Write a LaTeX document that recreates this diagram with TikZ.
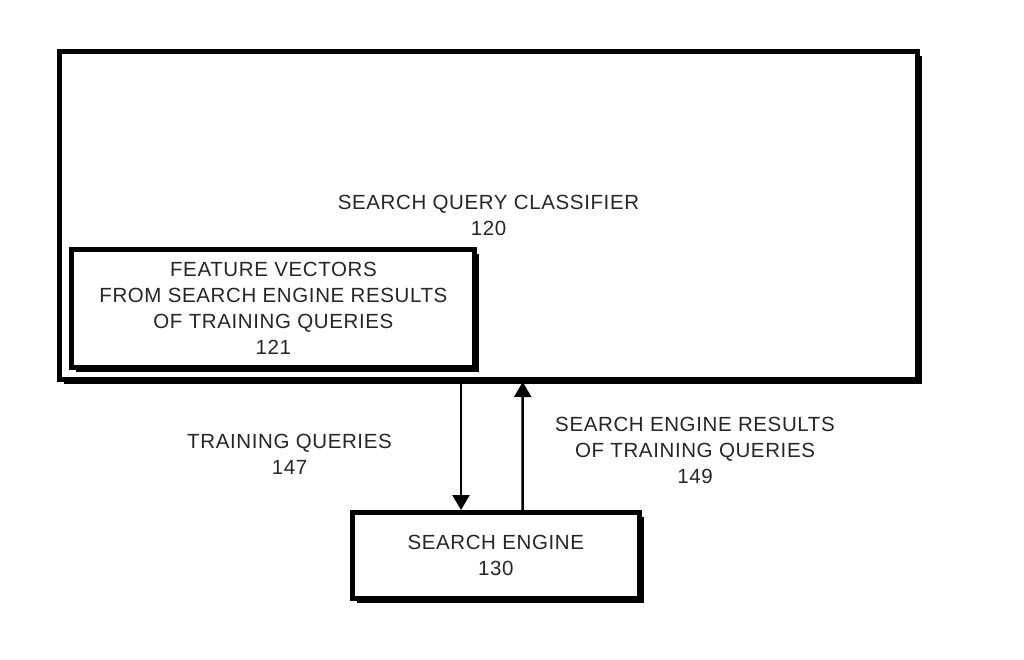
\documentclass[tikz,border=0pt]{standalone}
\usepackage{fontspec}
\setmainfont{Liberation Sans}[LetterSpace=3]
\usetikzlibrary{shadows,arrows.meta}
\begin{document}
\begin{tikzpicture}[x=1pt,y=-1pt,
  box/.style={draw=black, line width=5pt, fill=white, rectangle, inner sep=0pt,
    align=center, font=\fontsize{20.5}{26}\selectfont, text=black!85,
    drop shadow={shadow xshift=4.5pt, shadow yshift=-4.5pt, fill=black, opacity=1}},
  lbl/.style={align=center, font=\fontsize{20.5}{26}\selectfont, text=black!85, inner sep=0pt},
  arr/.style={draw=black, line width=2.5pt, -{Triangle[length=15pt,width=17pt]}}
]
\useasboundingbox (0,0) rectangle (1024,659);
\fill[white] (0,0) rectangle (1024,659);
\node[box, minimum width=858pt, minimum height=328.5pt] (outer) at (488.5,215.25)
  {SEARCH QUERY CLASSIFIER\\120};
\node[box, minimum width=403pt, minimum height=118.3pt] (fv) at (273.4,308.35)
  {FEATURE VECTORS\\FROM SEARCH ENGINE RESULTS\\OF TRAINING QUERIES\\121};
\node[box, minimum width=286.5pt, minimum height=86pt] (se) at (495.75,555.5)
  {SEARCH ENGINE\\130};
\draw[arr] ([xshift=-27.5pt]outer.south) -- ([xshift=-34.75pt]se.north);
\draw[arr] ([xshift=26.75pt]se.north) -- ([xshift=34.25pt]outer.south);
\node[lbl] (tq) at (289.5,454) {TRAINING QUERIES\\147};
\node[lbl] (ser) at (695,450) {SEARCH ENGINE RESULTS\\OF TRAINING QUERIES\\149};
\end{tikzpicture}
\end{document}
